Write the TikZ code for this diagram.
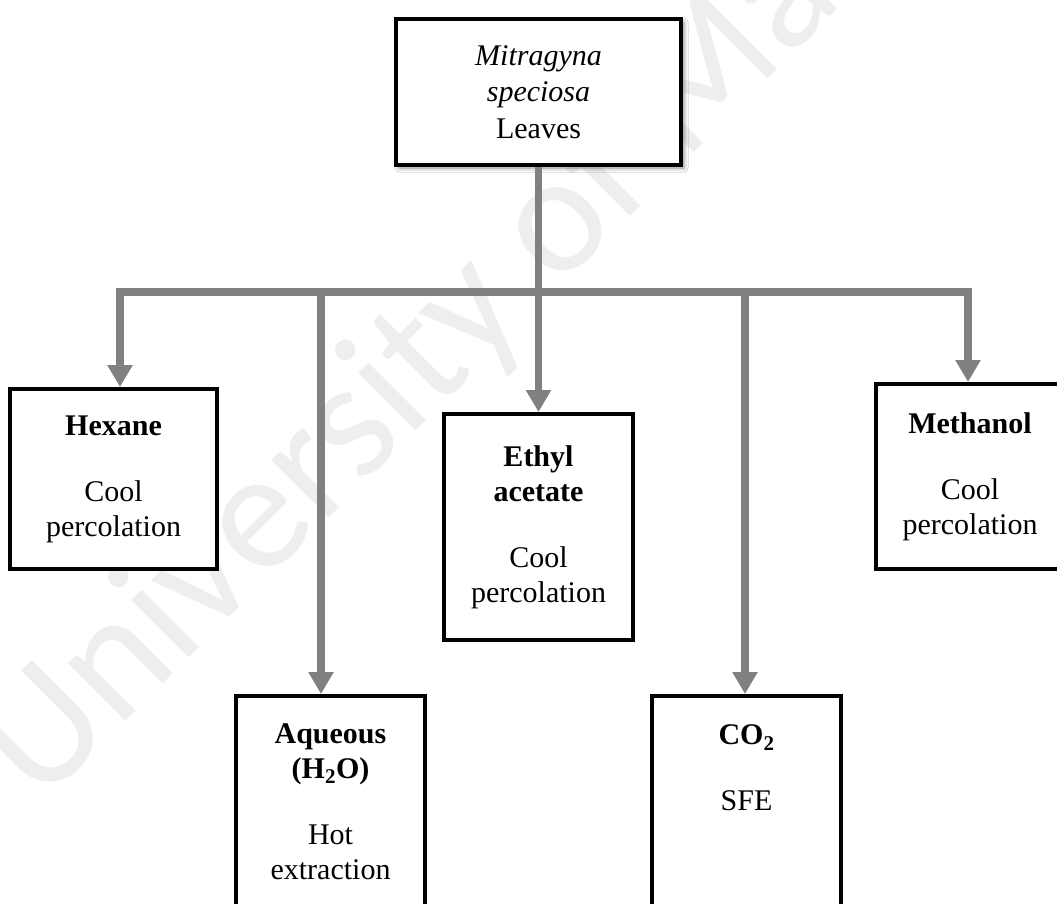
\documentclass[tikz,border=0pt]{standalone}
\usepackage{fontspec}
\setmainfont{Liberation Serif}
\newfontfamily\wmfont{Carlito}
\usetikzlibrary{arrows.meta,shadows.blur}

\definecolor{linkgray}{RGB}{128,128,128}
\definecolor{wmgray}{RGB}{238,238,238}

\begin{document}
\begin{tikzpicture}[x=1pt,y=-1pt,
  box/.style={draw=black, line width=4pt, fill=white, align=center, inner sep=0pt,
    font=\fontsize{30}{35}\selectfont},
  link/.style={draw=linkgray, line width=7.5pt},
  arr/.style={link, -{Triangle[width=24pt,length=22pt]}},
  wm/.style={text=wmgray, font=\wmfont\fontsize{170}{170}\selectfont, inner sep=0pt},
]
\clip (0,0) rectangle (1057,903);
\fill[white] (0,0) rectangle (1057,903);

% faint watermark behind the chart
\node[wm, rotate=45, anchor=base west] (wmark) at (40,807) {University of Malaya};

% source material
\node[box, minimum width=285pt, minimum height=146pt,
      font=\fontsize{30}{36.5}\selectfont,
      blur shadow={shadow xshift=3pt, shadow yshift=-3pt, shadow blur radius=4pt, shadow opacity=45}]
  (leaves) at (538.5,92) {\textit{Mitragyna}\\\textit{speciosa}\\Leaves};

% extraction solvents
\node[box, minimum width=207pt, minimum height=180pt] (hex) at (113.5,479)
  {\textbf{Hexane}\\[31pt]Cool\\percolation};
\node[box, minimum width=189pt, minimum height=226pt] (ethyl) at (538.5,527)
  {\textbf{Ethyl}\\\textbf{acetate}\\[31pt]Cool\\percolation};
\node[box, minimum width=189pt, minimum height=185pt] (meth) at (970,476.5)
  {\textbf{Methanol}\\[31pt]Cool\\percolation};
\node[box, minimum width=189pt, minimum height=211pt] (aq) at (330.5,801.5)
  {\textbf{Aqueous}\\\textbf{(H\textsubscript{2}O)}\\[31pt]Hot\\extraction};
\node[box, minimum width=189pt, minimum height=211pt] (co2) at (746.5,801.5)
  {\textbf{CO\textsubscript{2}}\\[31pt]SFE\\[32pt]\mbox{}};

% connectors
\coordinate (bus) at (538.5,292);
\coordinate (hexin) at ([xshift=6.5pt]hex.north);
\coordinate (aqin) at ([xshift=-9.5pt]aq.north);
\coordinate (co2in) at ([xshift=-1.5pt]co2.north);
\coordinate (methin) at ([xshift=-2pt]meth.north);

\draw[link] (leaves.south) -- (bus);
\draw[arr] (bus) -| (hexin);
\draw[arr] (bus) -| (methin);
\draw[arr] (bus) -- (ethyl.north);
\draw[arr] (aqin |- bus) -- (aqin);
\draw[arr] (co2in |- bus) -- (co2in);
\end{tikzpicture}
\end{document}
